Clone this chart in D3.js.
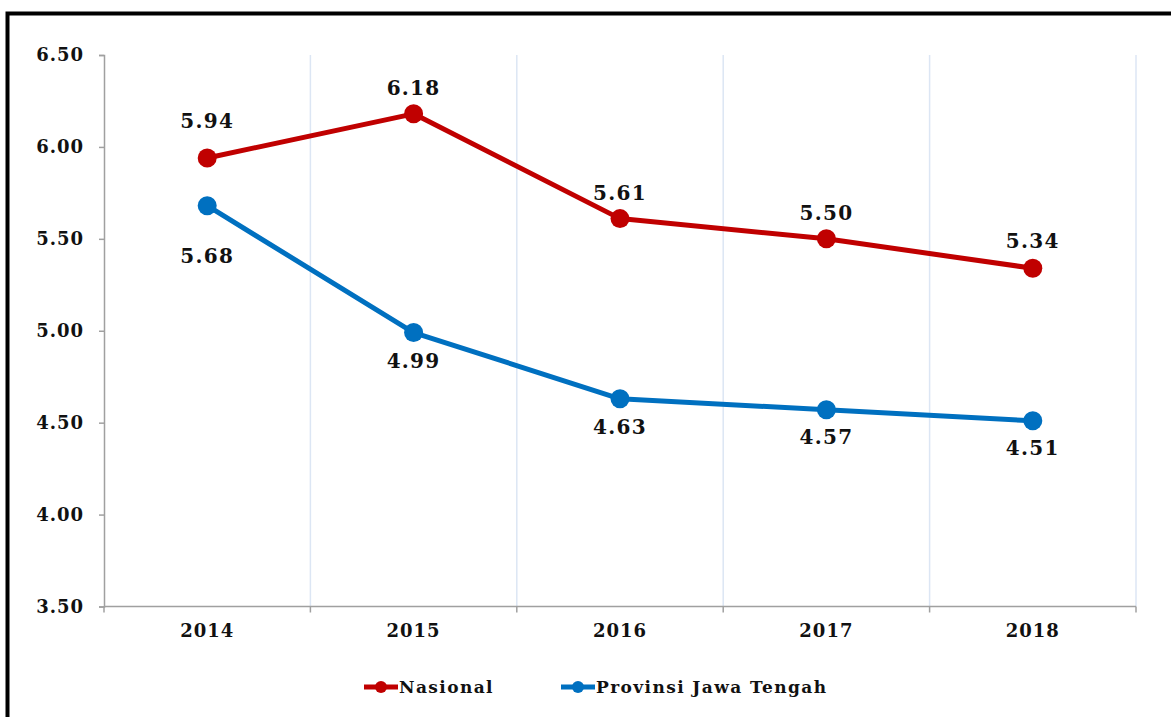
<!DOCTYPE html>
<html>
<head>
<meta charset="utf-8">
<script src="https://cdn.jsdelivr.net/npm/d3@7"></script>
<style>
  html, body { margin: 0; padding: 0; background: #fff; }
  svg { display: block; }
  text { font-family: "DejaVu Serif", "Liberation Serif", serif; font-weight: bold; fill: #111; }
</style>
</head>
<body>
<svg id="chart" width="1171" height="717"></svg>
<script>
// Years on the x axis
const years = ["2014", "2015", "2016", "2017", "2018"];
// Series values
const nasional = [5.94, 6.18, 5.61, 5.50, 5.34];
const jateng = [5.68, 4.99, 4.63, 4.57, 4.51];
// Y axis ticks
const yTicks = [3.50, 4.00, 4.50, 5.00, 5.50, 6.00, 6.50];
const seriesNames = ["Nasional", "Provinsi Jawa Tengah"];

const svg = d3.select("#chart");
const W = 1171, H = 717;
const plot = { left: 104, right: 1136, top: 55, bottom: 606.5 };

// Outer frame (open on the right and bottom edges of the page)
svg.append("path")
  .attr("d", `M7.5,${H + 5} V13.5 H${W + 5}`)
  .attr("fill", "none").attr("stroke", "#000").attr("stroke-width", 4);

const x = d3.scaleBand().domain(years).range([plot.left, plot.right]).paddingInner(0).paddingOuter(0);
const y = d3.scaleLinear().domain([3.5, 6.5]).range([plot.bottom, plot.top]);

// Vertical gridlines on category boundaries
const bounds = years.map(d => x(d) + x.bandwidth());
svg.append("g").selectAll("line").data(bounds).join("line")
  .attr("x1", d => d).attr("x2", d => d)
  .attr("y1", plot.top).attr("y2", plot.bottom)
  .attr("stroke", "#dce6f4").attr("stroke-width", 1.5);

// Y axis
const yAxis = svg.append("g").attr("transform", `translate(${plot.left},0)`)
  .call(d3.axisLeft(y).tickValues(yTicks).tickFormat(d3.format(".2f")).tickSize(5).tickPadding(15));
yAxis.select(".domain").attr("stroke", "#a0a0a0").attr("stroke-width", 1.5);
yAxis.selectAll(".tick line").attr("stroke", "#a0a0a0").attr("stroke-width", 1.5);
yAxis.selectAll(".tick text").attr("font-size", 18).attr("letter-spacing", 1).attr("fill", "#111")
  .attr("font-family", "'DejaVu Serif', serif").attr("font-weight", "bold");

// X axis: ticks at band boundaries, labels at band centres
const xAxisG = svg.append("g").attr("transform", `translate(0,${plot.bottom})`);
xAxisG.append("line").attr("x1", plot.left).attr("x2", plot.right)
  .attr("stroke", "#a0a0a0").attr("stroke-width", 1.5);
const tickPos = [plot.left].concat(bounds);
xAxisG.selectAll("line.tk").data(tickPos).join("line").attr("class", "tk")
  .attr("x1", d => d).attr("x2", d => d).attr("y1", 0).attr("y2", 6)
  .attr("stroke", "#a0a0a0").attr("stroke-width", 1.5);
xAxisG.selectAll("text").data(years).join("text")
  .attr("x", d => x(d) + x.bandwidth() / 2).attr("y", 30)
  .attr("text-anchor", "middle").attr("font-size", 18).attr("letter-spacing", 1).text(d => d);

const cx = d => x(d) + x.bandwidth() / 2;
const line = d3.line().x((d, i) => cx(years[i])).y(d => y(d));

const series = [
  { name: seriesNames[0], values: nasional, color: "#c00000", labelDy: [-37, -26, -26, -26, -27] },
  { name: seriesNames[1], values: jateng, color: "#0070c0", labelDy: [50, 28, 28, 27, 27] }
];

series.forEach(s => {
  svg.append("path").datum(s.values)
    .attr("d", line).attr("fill", "none")
    .attr("stroke", s.color).attr("stroke-width", 5).attr("stroke-linejoin", "round");
  svg.append("g").selectAll("circle").data(s.values).join("circle")
    .attr("cx", (d, i) => cx(years[i])).attr("cy", d => y(d)).attr("r", 9.5)
    .attr("fill", s.color);
  svg.append("g").selectAll("text").data(s.values).join("text")
    .attr("x", (d, i) => cx(years[i]))
    .attr("y", (d, i) => y(d) + s.labelDy[i])
    .attr("dominant-baseline", "central")
    .attr("text-anchor", "middle").attr("font-size", 20).attr("letter-spacing", 1.3)
    .text(d => d.toFixed(2));
});

// Legend
const legendItems = [
  { name: seriesNames[0], color: "#c00000", x: 364 },
  { name: seriesNames[1], color: "#0070c0", x: 561 }
];
const lg = svg.append("g");
legendItems.forEach(it => {
  lg.append("line").attr("x1", it.x).attr("x2", it.x + 34).attr("y1", 687).attr("y2", 687)
    .attr("stroke", it.color).attr("stroke-width", 5);
  lg.append("circle").attr("cx", it.x + 17).attr("cy", 687).attr("r", 6).attr("fill", it.color);
  lg.append("text").attr("x", it.x + 35).attr("y", 687).attr("dominant-baseline", "central")
    .attr("font-size", 17).attr("letter-spacing", 1.4).attr("fill", "#000").text(it.name);
});
</script>
</body>
</html>
